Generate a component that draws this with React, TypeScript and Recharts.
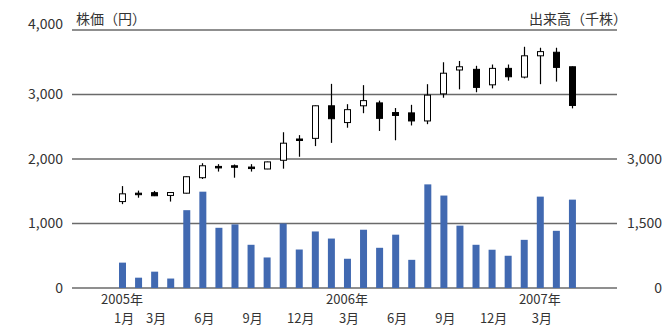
import React from 'react';
import { ComposedChart, Bar, XAxis, YAxis, CartesianGrid } from 'recharts';

const months = [
  '2005-01', '2005-02', '2005-03', '2005-04', '2005-05', '2005-06', '2005-07', '2005-08', '2005-09', '2005-10', '2005-11', '2005-12',
  '2006-01', '2006-02', '2006-03', '2006-04', '2006-05', '2006-06', '2006-07', '2006-08', '2006-09', '2006-10', '2006-11', '2006-12',
  '2007-01', '2007-02', '2007-03', '2007-04', '2007-05',
];
const opens = [1340, 1470, 1478, 1435, 1470, 1710, 1885, 1895, 1875, 1845, 1980, 2310, 2320, 2825, 2565, 2825, 2870, 2720, 2715, 2590, 3010, 3380, 3390, 3150, 3405, 3270, 3600, 3655, 3430];
const highs = [1580, 1510, 1505, 1485, 1730, 1935, 1920, 1915, 1920, 1960, 2415, 2370, 2830, 3165, 2850, 3145, 2905, 2790, 2840, 3160, 3500, 3520, 3445, 3465, 3465, 3740, 3725, 3725, 3435];
const lows = [1300, 1400, 1425, 1340, 1465, 1690, 1805, 1710, 1805, 1843, 1850, 2035, 2200, 2250, 2485, 2710, 2435, 2290, 2520, 2540, 2950, 3080, 3035, 3095, 3215, 3250, 3160, 3200, 2785];
const closes = [1460, 1455, 1430, 1480, 1725, 1895, 1870, 1888, 1868, 1955, 2245, 2300, 2825, 2625, 2765, 2905, 2630, 2675, 2590, 2990, 3330, 3430, 3110, 3405, 3275, 3600, 3665, 3420, 2830];
const volumes = [590, 240, 380, 220, 1810, 2240, 1400, 1480, 1005, 710, 1500, 895, 1315, 1150, 680, 1355, 935, 1240, 655, 2410, 2150, 1450, 1005, 890, 750, 1120, 2125, 1330, 2055];

const priceTicks = [0, 1000, 2000, 3000, 4000];
const volumeTicks = [0, 1500, 3000];
const yearTickMonths = ['2005-01', '2006-03', '2007-03'];
const yearTickLabels = ['2005年', '2006年', '2007年'];
const monthTickMonths = ['2005-01', '2005-03', '2005-06', '2005-09', '2005-12', '2006-03', '2006-06', '2006-09', '2006-12', '2007-03'];
const monthTickLabels = ['1月', '3月', '6月', '9月', '12月', '3月', '6月', '9月', '12月', '3月'];

const FONT = "'Noto Sans CJK JP', 'Noto Sans', sans-serif";
const TEXT = '#333';

const data = months.map((m, i) => ({
  month: m,
  open: opens[i],
  high: highs[i],
  low: lows[i],
  close: closes[i],
  range: [lows[i], highs[i]],
  volume: volumes[i],
}));

const fmt = (v: number) => v.toLocaleString('en-US');

const Candle = (props: any) => {
  const { x, y, width, height, payload } = props;
  if (!payload) return <g />;
  const { open, close, high, low } = payload;
  const span = high - low || 1;
  const py = (v: number) => y + (height * (high - v)) / span;
  const cx = Math.floor(x + width / 2) + 0.5;
  const top = py(Math.max(open, close));
  const bot = py(Math.min(open, close));
  const h = Math.max(bot - top, 1.5);
  const up = close >= open;
  return (
    <g>
      <line x1={cx} x2={cx} y1={py(high)} y2={py(low)} stroke="#000" strokeWidth={1.2} />
      <rect x={cx - 3} y={top} width={6} height={h} fill={up ? '#fff' : '#000'} stroke="#000" strokeWidth={1} />
    </g>
  );
};

const XTick = (props: any) => {
  const { x, y, payload } = props;
  const yi = yearTickMonths.indexOf(payload.value);
  const mi = monthTickMonths.indexOf(payload.value);
  return (
    <g>
      {yi >= 0 && (
        <text x={x} y={y + 16.4} textAnchor="middle" fill={TEXT} fontSize={13} fontFamily={FONT}>
          {yearTickLabels[yi]}
        </text>
      )}
      {mi >= 0 && (
        <text x={x + 2} y={y + 35.2} textAnchor="middle" fill={TEXT} fontSize={13} fontFamily={FONT}>
          {monthTickLabels[mi]}
        </text>
      )}
    </g>
  );
};

const LeftTick = (props: any) => {
  const { x, y, payload } = props;
  const shift = payload.value === 4000 ? -6 : 0;
  return (
    <text x={x} y={y + shift} dy="0.355em" textAnchor="end" fill={TEXT} fontSize={14} fontFamily={FONT}>
      {fmt(payload.value)}
    </text>
  );
};

const RightTick = (props: any) => {
  const { x, y, payload } = props;
  return (
    <text x={x + 45} y={y} dy="0.355em" textAnchor="end" fill={TEXT} fontSize={14} fontFamily={FONT}>
      {fmt(payload.value)}
    </text>
  );
};

export default function App() {
  return (
    <div style={{ position: 'absolute', left: 0, top: 0, width: 663, height: 327, background: '#fff' }}>
      <ComposedChart
        width={663}
        height={327}
        data={data}
        margin={{ top: 30, right: 0, bottom: 0, left: 0 }}
        barGap={-7}
        barCategoryGap={0}
      >
        <CartesianGrid yAxisId="left" vertical={false} stroke="#6a6a6a" strokeWidth={1.5} />
        <XAxis
          dataKey="month"
          interval={0}
          tickLine={false}
          axisLine={false}
          tickSize={0}
          tickMargin={0}
          height={39}
          padding={{ left: 42, right: 37 }}
          tick={(p: any) => <XTick {...p} />}
        />
        <YAxis
          yAxisId="left"
          domain={[0, 4000]}
          ticks={priceTicks}
          axisLine={false}
          tickLine={false}
          tickSize={0}
          tickMargin={9}
          width={72}
          tick={(p: any) => <LeftTick {...p} />}
        />
        <YAxis
          yAxisId="right"
          orientation="right"
          domain={[0, 6000]}
          ticks={volumeTicks}
          axisLine={false}
          tickLine={false}
          tickSize={0}
          tickMargin={0}
          width={46}
          tick={(p: any) => <RightTick {...p} />}
        />
        <Bar yAxisId="right" dataKey="volume" fill="#4169B1" barSize={7} isAnimationActive={false} />
        <Bar yAxisId="left" dataKey="range" barSize={7} shape={(p: any) => <Candle {...p} />} isAnimationActive={false} />
      </ComposedChart>
      <svg width={663} height={327} style={{ position: 'absolute', left: 0, top: 0, pointerEvents: 'none' }}>
        <text x={76} y={23.5} fill={TEXT} fontSize={14} fontFamily={FONT}>株価（円）</text>
        <text x={627} y={23.5} textAnchor="end" fill={TEXT} fontSize={14} fontFamily={FONT}>出来高（千株）</text>
      </svg>
    </div>
  );
}
